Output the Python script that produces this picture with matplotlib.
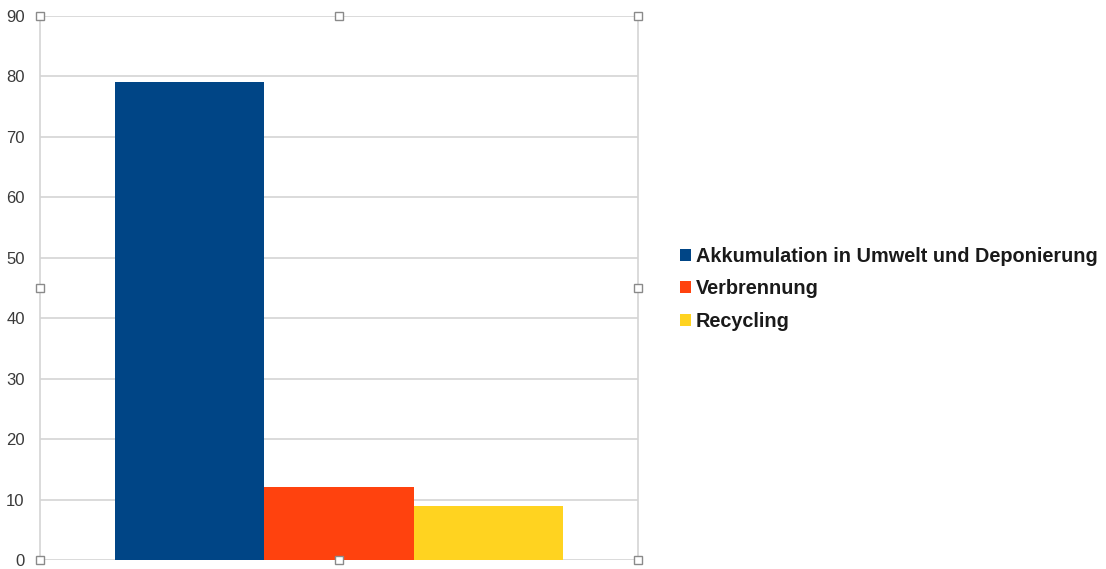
# Plastikmüll: Verbleib (Balkendiagramm im LibreOffice-Stil)
import numpy as np
import matplotlib.pyplot as plt

# Daten
series = ["Akkumulation in Umwelt und Deponierung", "Verbrennung", "Recycling"]
values = [79, 12, 9]
colors = ["#004586", "#ff420e", "#ffd320"]
yticks = list(range(0, 91, 10))

plt.rcParams['font.family'] = ['Liberation Sans', 'DejaVu Sans']

fig = plt.figure(figsize=(11.06, 5.69), dpi=100)
ax = fig.add_axes([40 / 1106, 1 - 560 / 569, 598 / 1106, 544 / 569])

width = 0.25
offsets = (np.arange(len(series)) - 1) * width
for off, val, col, name in zip(offsets, values, colors, series):
    ax.bar(off, val, width=width, color=col, label=name, zorder=3)

ax.set_xlim(-0.5, 0.5)
ax.set_ylim(0, 90)
ax.set_yticks(yticks)
ax.set_xticks([])
ax.tick_params(axis='y', length=0, pad=11, labelsize=12, labelcolor="#3a3a3a")
ax.grid(axis='y', color="#d4d4d4", linewidth=1.2, zorder=0)

for s in ["top", "bottom"]:
    ax.spines[s].set_visible(False)
for s in ["left", "right"]:
    ax.spines[s].set_color("#d4d4d4")
    ax.spines[s].set_linewidth(1.2)

# Auswahl-Griffe
hx = [0, 0.5, 1, 0, 1, 0, 0.5, 1]
hy = [1, 1, 1, 0.5, 0.5, 0, 0, 0]
ax.plot(hx, hy, ls="none", marker="s", markersize=6, markerfacecolor="white",
        markeredgecolor="#8a8a8a", markeredgewidth=1, transform=ax.transAxes,
        clip_on=False, zorder=5)

leg = fig.legend(loc="center left", bbox_to_anchor=(672 / 1106, 1 - 289 / 569),
                 frameon=False, prop={'weight': 'bold', 'size': 14.3},
                 handlelength=0.55, handleheight=0.55, handletextpad=0.25,
                 labelspacing=0.7, borderaxespad=0)
for t in leg.get_texts():
    t.set_color("#1a1a1a")

fig.savefig("out.png", dpi=100)
